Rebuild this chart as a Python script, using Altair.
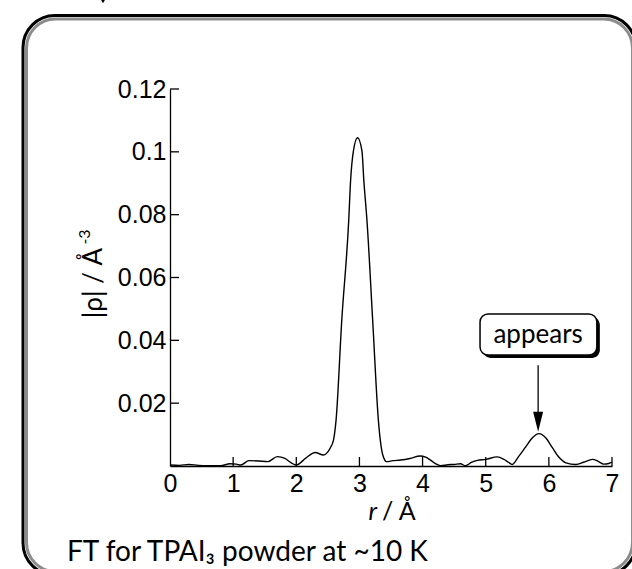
import altair as alt
import pandas as pd

# ---- data ----
r_values = [0.0, 0.15, 0.3, 0.45, 0.6, 0.8, 0.95, 1.05, 1.12, 1.25, 1.4, 1.55, 1.7, 1.82, 1.92,
            2.0, 2.15, 2.3, 2.43, 2.5, 2.55, 2.59, 2.63, 2.72, 2.83, 2.86, 2.905, 2.97, 3.04,
            3.07, 3.12, 3.21, 3.30, 3.33, 3.37, 3.43, 3.53, 3.65, 3.8, 3.96, 4.05, 4.13, 4.22,
            4.29, 4.4, 4.5, 4.6, 4.68, 4.78, 4.87, 5.0, 5.18, 5.29, 5.36, 5.42, 5.52, 5.63,
            5.74, 5.84, 5.95, 6.05, 6.15, 6.27, 6.43, 6.55, 6.69, 6.78, 6.87, 6.95, 7.0]
rho_values = [0.0003, 0.0002, 0.0005, 0.0002, 0.0001, 0.0001, 0.0007, 0.0006, 0.0003, 0.0017,
              0.0016, 0.0014, 0.0030, 0.0024, 0.0010, 0.0003, 0.0025, 0.0043, 0.0035, 0.0045,
              0.0062, 0.0083, 0.0146, 0.0463, 0.0780, 0.0908, 0.1003, 0.1045, 0.1003, 0.0908,
              0.0780, 0.0463, 0.0146, 0.0083, 0.0035, 0.0014, 0.0017, 0.0019, 0.0024, 0.0032,
              0.0028, 0.0018, 0.0006, 0.0001, 0.0004, 0.0005, 0.0007, 0.0001, 0.0012, 0.0018,
              0.0021, 0.0029, 0.0021, 0.0012, 0.0005, 0.0030, 0.0060, 0.0090, 0.0103, 0.0090,
              0.0060, 0.0030, 0.0010, 0.0005, 0.0012, 0.0021, 0.0015, 0.0006, 0.0008, 0.0012]

x_axis_values = [0, 1, 2, 3, 4, 5, 6, 7]
x_tick_values = [1, 2, 3, 4, 5, 6, 7]
y_tick_values = [0.02, 0.04, 0.06, 0.08, 0.10, 0.12]

annotation_label = "appears"
annotation_r = 5.83
box_r = [4.91, 6.76]
box_rho = [0.0353, 0.0484]
label_rho = 0.0417
arrow_rho = [0.0321, 0.0141]
arrow_tip_rho = 0.0109

caption_text = "FT for TPAI\u2083 powder at ~10 K"
y_title_main = "|\u03c1| / \u00c5"
y_title_sup = "-3"
x_title_italic = "r"
x_title_rest = "/ \u00c5"

W, H = 442, 377
TICK_FONT = "Liberation Sans"
TEXT_FONT = "Lato"

curve = pd.DataFrame({"r": r_values, "rho": rho_values})
one = pd.DataFrame({"k": [0]})

xscale = alt.Scale(domain=[0, 7], nice=False)
yscale = alt.Scale(domain=[0, 0.12], nice=False)

line = alt.Chart(curve).mark_line(color="black", strokeWidth=1.4, interpolate="monotone").encode(
    x=alt.X("r:Q", scale=xscale,
            axis=alt.Axis(values=x_axis_values, format="d", title=None, grid=False, ticks=False,
                          domainColor="black", domainWidth=1.3, labelFont=TICK_FONT,
                          labelFontSize=25, labelColor="black", labelPadding=5, labelFlush=False)),
    y=alt.Y("rho:Q", scale=yscale,
            axis=alt.Axis(values=y_tick_values, format=".2~f", title=None, grid=False, ticks=False,
                          domainColor="black", domainWidth=1.3, labelFont=TICK_FONT,
                          labelFontSize=25, labelColor="black", labelPadding=4, labelFlush=False)),
)

xticks = alt.Chart(pd.DataFrame({"t": x_tick_values})).mark_rule(color="black", strokeWidth=1.3).encode(
    x=alt.X("t:Q", scale=xscale), y=alt.value(H), y2=alt.value(H - 9))
yticks = alt.Chart(pd.DataFrame({"t": y_tick_values})).mark_rule(color="black", strokeWidth=1.3).encode(
    y=alt.Y("t:Q", scale=yscale), x=alt.value(0), x2=alt.value(9))

ann = pd.DataFrame({"x1": [box_r[0]], "x2": [box_r[1]], "y1": [box_rho[0]], "y2": [box_rho[1]],
                    "xc": [annotation_r], "yl": [label_rho], "a1": [arrow_rho[0]], "a2": [arrow_rho[1]],
                    "tip": [arrow_tip_rho], "lab": [annotation_label]})
shadow = alt.Chart(ann).mark_rect(fill="black", cornerRadius=8, xOffset=3, yOffset=3, x2Offset=3, y2Offset=3).encode(
    x=alt.X("x1:Q", scale=xscale), x2="x2:Q", y=alt.Y("y1:Q", scale=yscale), y2="y2:Q")
box = alt.Chart(ann).mark_rect(fill="white", stroke="black", strokeWidth=1.5, cornerRadius=8).encode(
    x=alt.X("x1:Q", scale=xscale), x2="x2:Q", y=alt.Y("y1:Q", scale=yscale), y2="y2:Q")
box_text = alt.Chart(ann).mark_text(font=TEXT_FONT, fontSize=26, color="black", baseline="middle").encode(
    x=alt.X("xc:Q", scale=xscale), y=alt.Y("yl:Q", scale=yscale), text="lab:N")
shaft = alt.Chart(ann).mark_rule(color="black", strokeWidth=1.3).encode(
    x=alt.X("xc:Q", scale=xscale), y=alt.Y("a1:Q", scale=yscale), y2="a2:Q")
head = alt.Chart(ann).mark_point(shape="M-0.25,-1L0.25,-1L0,0Z", size=1600, filled=True,
                                 color="black", opacity=1).encode(
    x=alt.X("xc:Q", scale=xscale), y=alt.Y("tip:Q", scale=yscale))

frame_outer = alt.Chart(one).mark_rect(fill=None, stroke="black", strokeWidth=3, cornerRadius=32).encode(
    x=alt.value(-147), x2=alt.value(466), y=alt.value(-73.5), y2=alt.value(486))
frame_inner = alt.Chart(one).mark_rect(fill=None, stroke="#8c8c8c", strokeWidth=3, cornerRadius=29).encode(
    x=alt.value(-143.5), x2=alt.value(462.5), y=alt.value(-70), y2=alt.value(482.5))
corner_mark = alt.Chart(one).mark_point(shape="triangle-down", size=60, filled=True, color="black", opacity=1).encode(
    x=alt.value(-67), y=alt.value(-89))

caption = alt.Chart(one).mark_text(font=TEXT_FONT, fontSize=28, color="black", align="left",
                                   baseline="alphabetic", text=caption_text).encode(
    x=alt.value(-103), y=alt.value(472))
xt1 = alt.Chart(one).mark_text(font=TEXT_FONT, fontSize=25, fontStyle="italic", color="black", align="right",
                               baseline="alphabetic", text=x_title_italic).encode(
    x=alt.value(207), y=alt.value(431))
xt2 = alt.Chart(one).mark_text(font=TEXT_FONT, fontSize=25, color="black", align="left",
                               baseline="alphabetic", text=x_title_rest).encode(
    x=alt.value(212), y=alt.value(431))
yt = alt.Chart(one).mark_text(font=TEXT_FONT, fontSize=26, color="black", align="center",
                              baseline="middle", angle=270, text=y_title_main).encode(
    x=alt.value(-76), y=alt.value(194))
yt_sup = alt.Chart(one).mark_text(font=TEXT_FONT, fontSize=16, color="black", align="center",
                                  baseline="middle", angle=270, text=y_title_sup).encode(
    x=alt.value(-85), y=alt.value(148))

chart = alt.layer(
    frame_outer, frame_inner, corner_mark, line, xticks, yticks,
    shadow, box, box_text, shaft, head, caption, xt1, xt2, yt, yt_sup
).properties(
    width=W, height=H,
    padding={"left": 170, "top": 89, "right": 20, "bottom": 103},
    autosize=alt.AutoSizeParams(type="none"),
    background="white",
).configure_view(stroke=None)

chart.save("out.html", embed_options={"renderer": "svg", "actions": False})
